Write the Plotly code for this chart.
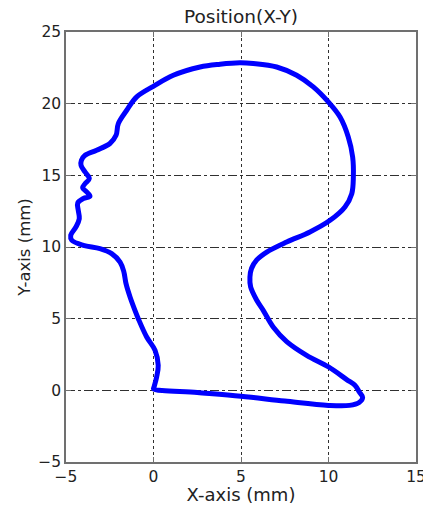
import plotly.graph_objects as go

# Outline of the traced path (mm)
x_mm = [0.0, 2.5, 5.0, 7.5, 10.0, 11.2, 11.75, 11.95, 11.75, 11.51, 11.04, 10.0, 8.75, 7.61,
        6.85, 6.27, 5.9, 5.55, 5.51, 5.6, 5.9, 6.47, 7.61, 8.94, 10.09, 10.94, 11.33, 11.42, 11.38,
        11.13, 10.66, 9.99, 9.13, 8.18, 7.04, 5.7, 4.94, 3.8, 2.66, 1.13, -0.01, -0.96,
        -1.53, -2.01, -2.14, -2.49, -3.25, -3.91, -4.12, -4.14, -3.91, -3.67, -3.91, -4.05,
        -3.82, -3.63, -4.01, -4.33, -4.3, -4.24, -4.43, -4.73, -4.67, -4.01, -3.06, -2.39,
        -1.91, -1.7, -1.57, -1.34, -1.06, -0.87, -0.39, 0.09, 0.27, 0.18, 0.03, 0.0]
y_mm = [0.11, -0.15, -0.42, -0.75, -1.05, -1.05, -0.85, -0.5, -0.1, 0.35, 0.75, 1.63, 2.44, 3.4,
        4.4, 5.58, 6.28, 7.21, 7.9, 8.5, 9.1, 9.65, 10.35, 11.05, 11.86, 12.79, 13.72, 14.88, 16.28,
        17.68, 19.07, 20.12, 21.17, 21.98, 22.56, 22.8, 22.85, 22.75, 22.56, 21.98, 21.21, 20.47,
        19.54, 18.61, 17.79, 17.22, 16.75, 16.4, 16.05, 15.7, 15.23, 14.77, 14.42, 14.14,
        13.84, 13.54, 13.38, 13.07, 12.56, 11.98, 11.4, 10.82, 10.47, 10.12, 9.89, 9.54,
        8.95, 8.3, 7.44, 6.51, 5.58, 5.0, 3.72, 2.79, 1.74, 0.93, 0.23, 0.11]

x_ticks = [-5, 0, 5, 10, 15]
y_ticks = [-5, 0, 5, 10, 15, 20, 25]

fig = go.Figure()
fig.add_trace(go.Scatter(x=x_mm, y=y_mm, mode="lines",
                         line=dict(color="#0000FF", width=5, shape="spline", smoothing=1.0),
                         showlegend=False))

font = "DejaVu Sans, sans-serif"
axis_common = dict(showline=True, linecolor="#707070", linewidth=1.5, mirror="ticks",
                   ticks="inside", ticklen=5, tickcolor="#707070",
                   showgrid=True, gridcolor="#303030", gridwidth=1,
                   zeroline=False, ticklabeloverflow="allow", automargin=False,
                   tickfont=dict(family=font, size=15.5, color="#222"))

fig.update_layout(
    width=423, height=505,
    margin=dict(l=66, r=7, t=32, b=43),
    paper_bgcolor="white", plot_bgcolor="white",
    title=dict(text="Position(X-Y)", x=0.5, xanchor="center", xref="paper",
               y=1 - 17 / 505, yanchor="middle",
               font=dict(family=font, size=18.5, color="#222")),
    xaxis=dict(range=[-5, 15], tickvals=x_ticks, griddash="dot",
               title=dict(text="X-axis (mm)", standoff=0, font=dict(family=font, size=18, color="#222")),
               **axis_common),
    yaxis=dict(range=[-5, 25], tickvals=y_ticks, griddash="dashdot",
               title=dict(text="Y-axis (mm)", standoff=4, font=dict(family=font, size=16.5, color="#222")),
               **axis_common),
)

fig.write_html("out.html")
